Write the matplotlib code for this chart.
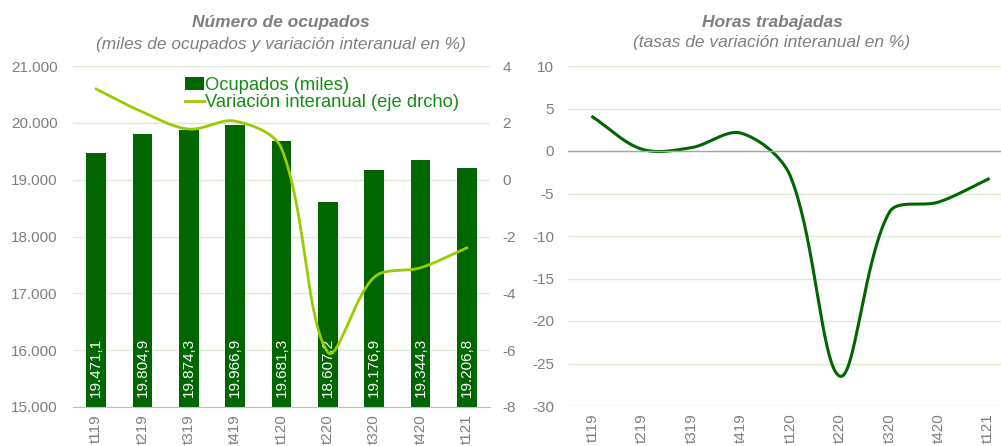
import numpy as np
import matplotlib
matplotlib.use("Agg")
import matplotlib.pyplot as plt

plt.rcParams["font.family"] = ["Liberation Sans", "DejaVu Sans"]
plt.rcParams["axes.unicode_minus"] = False

# data
quarters = ["t119", "t219", "t319", "t419", "t120", "t220", "t320", "t420", "t121"]
ocupados = [19471.1, 19804.9, 19874.3, 19966.9, 19681.3, 18607.2, 19176.9, 19344.3, 19206.8]
variacion = [3.19, 2.38, 1.78, 2.06, 1.1, -6.07, -3.43, -3.1, -2.4]
horas = [4.0, 0.2, 0.4, 2.1, -3.0, -26.5, -7.2, -6.0, -3.3]

DARK = "#006600"
LIGHT = "#99cc00"
GRID = "#dcebd6"
GREY = "#7f7f7f"


def smooth(ax, y, n=40):
    # bezier smoothing with chord-weighted handles (like a spreadsheet "smoothed line"),
    # worked out in pixel space so the shape follows the axes scaling
    pts = ax.transData.transform(np.column_stack([np.arange(len(y)), y]))
    m = len(pts)
    out = []
    for i in range(m - 1):
        p0 = pts[max(i - 1, 0)]
        p1 = pts[i]
        p2 = pts[i + 1]
        p3 = pts[min(i + 2, m - 1)]
        d01 = np.hypot(*(p1 - p0))
        d12 = np.hypot(*(p2 - p1))
        d23 = np.hypot(*(p3 - p2))
        w1 = d12 / (d01 + d12) if d01 + d12 > 0 else 0
        w2 = d12 / (d12 + d23) if d12 + d23 > 0 else 0
        c1 = p1 + (p2 - p0) * w1 / 3
        c2 = p2 - (p3 - p1) * w2 / 3
        t = np.linspace(0, 1, n)[:, None]
        seg = ((1 - t) ** 3) * p1 + 3 * ((1 - t) ** 2) * t * c1 + 3 * (1 - t) * t ** 2 * c2 + t ** 3 * p2
        out.append(seg if i == 0 else seg[1:])
    out = np.vstack(out)
    data = ax.transData.inverted().transform(out)
    return data[:, 0], data[:, 1]


def fmt_es(v):
    s = f"{v:,.1f}"
    return s.replace(",", "X").replace(".", ",").replace("X", ".")


fig = plt.figure(figsize=(10.01, 4.46), dpi=100)

# ---- left chart
ax = fig.add_axes([73 / 1001, 1 - 407 / 446, 417 / 1001, 341 / 446])
x = np.arange(len(quarters))
ax.bar(x, ocupados, width=0.42, color=DARK, label="Ocupados (miles)", zorder=2)
ax.set_ylim(15000, 21000)
ax.set_xlim(-0.5, len(quarters) - 0.5)
ax.set_yticks(np.arange(15000, 21001, 1000))
ax.set_yticklabels([f"{v:,}".replace(",", ".") for v in range(15000, 21001, 1000)])
ax.yaxis.grid(True, color=GRID, lw=1)
ax.set_axisbelow(True)
for s in ["top", "right", "left"]:
    ax.spines[s].set_visible(False)
ax.spines["bottom"].set_color("#bfbfbf")
ax.tick_params(axis="y", length=0, colors=GREY, labelsize=11, pad=11)
ax.tick_params(axis="x", length=0, colors=GREY, labelsize=11, pad=5)
ax.set_xticks(x)
ax.set_xticklabels(quarters, rotation=90)
for xi, v in zip(x, ocupados):
    ax.text(xi, 15170, fmt_es(v), rotation=90, ha="center", va="bottom",
            color="white", fontsize=11, zorder=4)

ax2 = ax.twinx()
ax2.set_ylim(-8, 4)
ax2.set_xlim(-0.5, len(quarters) - 0.5)
ax2.set_yticks(range(-8, 5, 2))
for s in ax2.spines.values():
    s.set_visible(False)
ax2.tick_params(axis="y", length=0, colors=GREY, labelsize=11, pad=9)
sx, sy = smooth(ax2, variacion)
ax2.plot(sx, sy, color=LIGHT, lw=2, label="Variación interanual (eje drcho)", zorder=3)

h1, l1 = ax.get_legend_handles_labels()
h2, l2 = ax2.get_legend_handles_labels()
leg = ax2.legend(h1 + h2, l1 + l2, loc="upper left", bbox_to_anchor=(0.243, 1.0),
                 frameon=False, fontsize=13.2, handlelength=1.0, handletextpad=0.1,
                 labelspacing=0.0, borderaxespad=0.2)
for t in leg.get_texts():
    t.set_color("#168c16")

fig.text(281 / 1001, 1 - 23 / 446, "Número de ocupados", ha="center", va="center",
         fontsize=12.5, color=GREY, style="italic", weight="bold")
fig.text(281 / 1001, 1 - 45 / 446, "(miles de ocupados y variación interanual en %)",
         ha="center", va="center", fontsize=12.5, color=GREY, style="italic")

# ---- right chart
bx = fig.add_axes([568 / 1001, 1 - 406 / 446, 445 / 1001, 340 / 446])
bx.set_ylim(-30, 10)
bx.set_xlim(-0.5, len(quarters) - 0.5)
hx, hy = smooth(bx, horas)
bx.plot(hx, hy, color=DARK, lw=2.2)
bx.axhline(0, color="#a6a6a6", lw=1)
bx.set_yticks(range(-30, 11, 5))
bx.yaxis.grid(True, color=GRID, lw=1)
bx.set_axisbelow(True)
for s in bx.spines.values():
    s.set_visible(False)
bx.tick_params(axis="y", length=0, colors=GREY, labelsize=11, pad=10)
bx.tick_params(axis="x", length=0, colors=GREY, labelsize=11, pad=5)
bx.set_xticks(x)
bx.set_xticklabels(quarters, rotation=90)

fig.text(772 / 1001, 1 - 23 / 446, "Horas trabajadas", ha="center", va="center",
         fontsize=12.5, color=GREY, style="italic", weight="bold")
fig.text(772 / 1001, 1 - 42 / 446, "(tasas de variación interanual en %)",
         ha="center", va="center", fontsize=12.5, color=GREY, style="italic")

fig.savefig("out.png", dpi=100)
